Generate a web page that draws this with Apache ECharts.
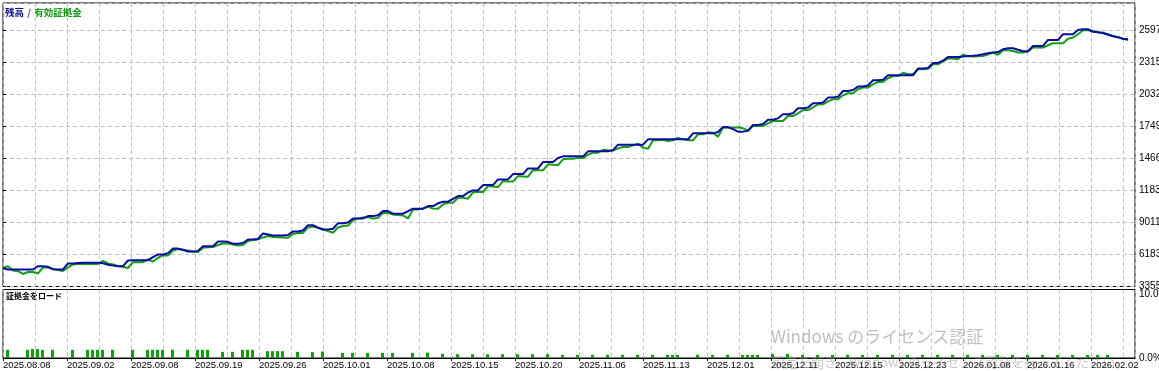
<!DOCTYPE html>
<html><head><meta charset="utf-8">
<script src="https://cdn.jsdelivr.net/npm/echarts@6/dist/echarts.min.js"></script>
<style>html,body{margin:0;padding:0;background:#fff;overflow:hidden}#c{width:1159px;height:371px}</style>
</head><body><div id="c"></div>
<script>
// ---- data ----
const dateLabels = ['2025.08.08','2025.09.02','2025.09.08','2025.09.19','2025.09.26','2025.10.01','2025.10.08','2025.10.15','2025.10.20','2025.11.06','2025.11.13','2025.12.01','2025.12.11','2025.12.15','2025.12.23','2026.01.08','2026.01.16','2026.02.02'];

const balance = [
4972,4857,4857,4857,4857,4857,4857,5149,5149,5096,
4884,4857,4857,5388,5388,5420,5449,5449,5449,5449,
5400,5273,5210,5149,5149,5653,5679,5679,5679,5679,
5950,6183,6183,6300,6713,6700,6600,6448,6448,6500,
6917,6917,6917,7332,7332,7300,7129,7129,7200,7509,
7509,7550,8039,7951,7862,7862,7862,7900,8216,8216,
8300,8772,8760,8550,8392,8392,8450,8949,8949,9000,
9365,9365,9365,9568,9568,9650,10010,10010,9780,9780,
9780,10000,10222,10222,10222,10452,10452,10700,10840,10840,
11100,11335,11335,11650,11839,11839,12307,12307,12307,12811,
12811,12811,13280,13280,13280,13783,13783,13783,14340,14340,
14340,14700,14844,14844,14844,14844,14844,15286,15286,15286,
15286,15286,15400,15878,15878,15878,15878,15878,15878,16346,
16346,16346,16346,16346,16346,16346,16346,16346,16876,16876,
16876,16876,16876,17000,17433,17433,17250,17027,17027,17100,
17610,17610,17700,18069,18069,18200,18556,18556,18650,19086,
19086,19150,19528,19528,19600,20031,20031,20100,20615,20615,
20700,21004,21004,21100,21560,21560,21600,22002,22002,22002,
22002,22002,22002,22594,22594,22650,23089,23089,23300,23619,
23619,23619,23650,23700,23720,23770,23850,23950,24008,24050,
24300,24388,24388,24250,24123,24123,24592,24592,24592,25122,
25122,25122,25626,25626,25626,26000,26067,26067,25846,25800,
25758,25581,25450,25350,25228,25184];

const equity = [
4990,5149,4769,4707,4460,4637,4637,4504,5034,5034,
4902,4813,4725,5034,5299,5343,5343,5343,5343,5343,
5609,5388,5299,5167,5096,4990,5503,5503,5503,5741,
5564,5891,6095,6095,6537,6669,6581,6537,6422,6404,
6775,6828,6846,7023,7155,7155,7067,6978,7023,7376,
7465,7509,7686,7818,7730,7712,7686,7659,7995,8083,
8083,8569,8658,8543,8392,8260,8100,8569,8702,8746,
9188,9365,9453,9479,9365,9409,9868,9850,9718,9656,
9630,9365,10160,10160,10248,10381,10248,10222,10602,10752,
10752,11194,11194,11106,11662,11724,11689,12219,12193,12131,
12661,12634,12634,13103,13076,13050,13633,13607,13607,14137,
14093,14075,14579,14623,14641,14711,14694,15000,15171,15171,
15418,15374,15348,15550,15666,15666,15816,15966,15613,15524,
16257,16257,16302,16196,16257,16478,16346,16257,16257,16788,
16788,16964,16920,16585,17380,17380,17362,17407,17318,17142,
17522,17522,17522,17760,17964,17964,17964,18405,18405,18644,
18936,18936,19174,19439,19439,19704,19881,19881,20234,20412,
20412,20765,20915,20915,21207,21410,21410,21737,21940,21940,
22223,22091,22091,22533,22533,22577,22974,22974,23240,23478,
23478,23416,23813,23681,23655,23681,23708,23858,24008,23813,
24211,24211,24150,24008,24008,24123,24450,24450,24450,24653,
24830,24830,24830,25228,25334,25626,25979,25979,25917,25802,
25714,25626,25476,25378,25228,25122];

const loadSlots = [0,4,5,6,7,9,13,16,17,18,19,21,25,28,29,30,31,33,36,38,39,40,43,45,47,48,49,52,53,54,55,58,61,63,67,69,72,75,77,81,84,87,90,93,96,99,102,105,108,111,114,117,120,123,126,129,132,133,134,138,141,144,147,148,149,150,153,156,159,162,165,168,171,174,177,180,183,186,189,192,195,198,201,204,207,210,213,216,218,220];
const loadPct = [1.2,1.2,1.3,1.3,1.2,1.2,1.2,1.2,1.2,1.2,1.2,1.2,1.2,1.2,1.2,1.2,1.2,1.2,1.2,1.2,1.2,1.2,0.9,0.9,1.2,1.2,1.2,1.0,1.0,1.0,1.0,0.9,0.85,0.95,0.75,0.75,0.75,0.75,0.75,0.75,0.8,0.6,0.55,0.55,0.55,0.55,0.55,0.55,0.55,0.45,0.45,0.45,0.45,0.45,0.45,0.45,0.45,0.45,0.45,0.45,0.45,0.45,0.45,0.45,0.45,0.45,0.6,0.6,0.45,0.45,0.45,0.45,0.45,0.45,0.45,0.45,0.45,0.45,0.45,0.45,0.45,0.45,0.45,0.45,0.45,0.45,0.45,0.45,0.45,0.45];

const yMin = 3355, yStep = 2828, yMax = 28383;
const loadMax = 10;
const xMax = 226.4;        // trade index at right border
const gridStep = 6.4;      // trades per vertical grid line
const barOffset = 0.9;     // load bars sit between deal points

const FONT = '"Liberation Sans", Arial, sans-serif';
const gridLine = {show: true, lineStyle: {color: '#c0c0c0', type: [4, 3], width: 1}};

const chart = echarts.init(document.getElementById('c'), null, {renderer: 'canvas'});
chart.setOption({
  animation: false,
  backgroundColor: '#fff',
  grid: [
    {left: 3, top: 3, width: 1132, height: 283.5, show: true, borderColor: '#000', borderWidth: 1,
     backgroundColor: '#fff', containLabel: false, outerBoundsMode: 'none'},
    {left: 3, top: 289.5, width: 1132, height: 68.5, show: true, borderColor: '#000', borderWidth: 1,
     backgroundColor: '#fff', containLabel: false, outerBoundsMode: 'none'}
  ],
  xAxis: [
    {gridIndex: 0, type: 'value', min: 0, max: xMax, interval: gridStep,
     axisLine: {show: false}, axisTick: {show: false}, axisLabel: {show: false}, splitLine: gridLine},
    {gridIndex: 1, type: 'value', min: 0, max: xMax, interval: gridStep * 2,
     axisLine: {show: true, lineStyle: {color: '#000', width: 1}},
     axisTick: {show: true, length: 3, lineStyle: {color: '#000'}},
     axisLabel: {show: true, align: 'left', margin: 2, color: '#000', fontSize: 9.5, fontFamily: FONT,
                 showMaxLabel: false, hideOverlap: false,
                 formatter: v => dateLabels[Math.round(v / (gridStep * 2))] || ''},
     splitLine: {show: false}},
    {gridIndex: 1, type: 'value', min: 0, max: xMax, interval: gridStep,
     axisLine: {show: false}, axisTick: {show: false}, axisLabel: {show: false}, splitLine: gridLine}
  ],
  yAxis: [
    {gridIndex: 0, type: 'value', position: 'right', min: yMin, max: yMax, interval: yStep,
     axisLine: {show: false},
     axisTick: {show: true, length: 3, lineStyle: {color: '#000'}},
     axisLabel: {show: true, margin: 4, color: '#000', fontSize: 10, fontFamily: FONT, showMaxLabel: false,
                 formatter: v => String(Math.round(v))},
     splitLine: gridLine},
    {gridIndex: 1, type: 'value', position: 'right', min: 0, max: loadMax, interval: loadMax,
     axisLine: {show: false},
     axisTick: {show: false},
     axisLabel: {show: true, margin: 4, color: '#000', fontSize: 10, fontFamily: FONT,
                 verticalAlignMaxLabel: 'top',
                 formatter: v => v.toFixed(1) + '%'},
     splitLine: {show: false}}
  ],
  series: [
    {type: 'line', name: '有効証拠金', xAxisIndex: 0, yAxisIndex: 0, z: 2,
     data: equity.map((v, i) => [i, v]), symbol: 'none', silent: true,
     lineStyle: {color: '#10a010', width: 2}},
    {type: 'line', name: '残高', xAxisIndex: 0, yAxisIndex: 0, z: 3,
     data: balance.map((v, i) => [i, v]), symbol: 'none', silent: true,
     lineStyle: {color: '#0b0ba6', width: 2}},
    {type: 'bar', name: '証拠金をロード', xAxisIndex: 1, yAxisIndex: 1,
     data: loadSlots.map((s, i) => [s + barOffset, loadPct[i]]),
     barWidth: 3, itemStyle: {color: '#10a010'}, silent: true}
  ],
  graphic: [
    {type: 'text', left: 5, top: 6, z: 10,
     style: {text: '{a|残高} {s|/} {b|有効証拠金}',
             rich: {a: {fill: '#0a0a96', font: 'bold 9.5px "Noto Sans CJK JP"'},
                    s: {fill: '#3050a0', font: 'bold 9.5px "Noto Sans CJK JP"'},
                    b: {fill: '#119911', font: 'bold 9.5px "Noto Sans CJK JP"'}}}},
    {type: 'text', left: 6, top: 292, z: 10,
     style: {text: '証拠金をロード', fill: '#000', font: 'bold 8px "Noto Sans CJK JP"'}},
    {type: 'text', left: 771, top: 328, z: 20, silent: true,
     style: {text: 'Windows のライセンス認証', fill: 'rgba(128,128,128,0.5)', font: '17px "Noto Sans CJK JP"'}},
    {type: 'text', left: 772, top: 356, z: 20, silent: true,
     style: {text: '設定を開き、Windows のライセンス認証を行ってください。', fill: 'rgba(128,128,128,0.45)', font: '13px "Noto Sans CJK JP"'}}
  ]
});
</script>
</body></html>
